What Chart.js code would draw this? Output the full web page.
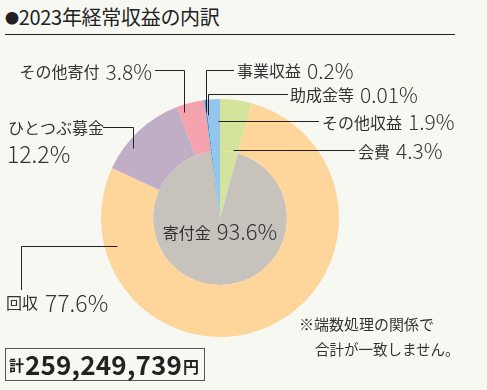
<!DOCTYPE html>
<html><head><meta charset="utf-8">
<script src="https://cdn.jsdelivr.net/npm/chart.js@4.4.1/dist/chart.umd.min.js"></script>
<style>
html,body{margin:0;padding:0;background:#f8f8f3;}
#wrap{position:relative;width:487px;height:390px;overflow:hidden;font-family:"Noto Sans CJK JP","Noto Sans",sans-serif;color:#333;}
#title{position:absolute;left:5px;top:4px;font-size:20px;line-height:26px;color:#222;letter-spacing:-0.3px;}
#title .b{font-size:14px;vertical-align:2px;}
#rule{position:absolute;left:5px;top:34px;width:450px;height:0;border-top:1px solid #222;}
canvas{position:absolute;left:0;top:0;}
#note{position:absolute;left:299px;top:311px;font-size:15px;line-height:25px;color:#333;white-space:nowrap;}
#note .l2{font-size:14.5px;padding-left:16px;}
#total{position:absolute;left:5px;top:348px;width:198px;height:31px;border:1px solid #555;box-sizing:content-box;color:#222;white-space:nowrap;}
#total span{position:absolute;top:0;}
</style></head>
<body><div id="wrap">
<div id="title"><span class="b">●</span>2023年経常収益の内訳</div>
<div id="rule"></div>
<canvas id="c" width="487" height="390"></canvas>
<div id="note">※端数処理の関係で<br><span class="l2">合計が一致しません。</span></div>
<div id="total"><span style="left:3px;top:5px;font-size:15px;line-height:22px;font-weight:700;">計</span><span id="amt" style="left:19px;top:-2px;font-size:26px;line-height:34px;font-weight:700;letter-spacing:0.2px;"></span><span style="left:177px;top:6px;font-size:16px;line-height:22px;font-weight:700;">円</span></div>
</div>
<script>
// ---- data ----
const categories = ['会費','回収','ひとつぶ募金','その他寄付','事業収益','助成金等','その他収益'];
const outerValues = [4.3, 77.6, 12.2, 3.8, 0.2, 0.01, 1.9];
const innerCategories = ['会費','寄付金','事業収益','助成金等','その他収益'];
const innerValues = [4.3, 93.6, 0.2, 0.01, 1.9];
const totalAmount = '259,249,739';

// ---- styles ----
const outerColors = ['#d4e49c','#fed59b','#c0aec7','#f4a2ae','#2f95d3','#2f95d3','#93c5ed'];
const innerColors = ['#d4e49c','#c7c2bc','#2f95d3','#2f95d3','#93c5ed'];

document.getElementById('amt').textContent = totalAmount;

// label layout (text positions & where along the slice the leader points)
const labelLayout = {
  '会費':       {t:0.70, r:0.58, mode:'straight', tx:358},
  'その他収益': {t:0.82, r:0.815, mode:'straight', tx:322},
  '助成金等':   {t:0.5, r:0.87, mode:'up', lx:288, ly:94, tx:290, ty:95, align:'left'},
  '事業収益':   {t:0.3, r:0.90, mode:'up', lx:234, ly:70, tx:237, ty:71, align:'left'},
  'その他寄付': {t:0.18, r:0.94, mode:'up', lx:155, ly:70, tx:152, ty:72, align:'right'},
  'ひとつぶ募金': {t:0.32, r:0.94, mode:'up', lx:103, ly:127, tx:8, ty:128, align:'left', valueBelow:{x:7,y:154}},
  '回収':       {t:0.857, r:0.90, mode:'down', lx:21, ly:290, tx:6, ty:303, align:'left'}
};

const nameFont = '16px "Noto Sans CJK JP", sans-serif';
const valFont = '300 21px "Noto Sans CJK JP", sans-serif';
const bigValFont = '300 23px "Noto Sans CJK JP", sans-serif';

function drawLabel(ctx, name, val, x, y, align){
  ctx.textBaseline = 'middle';
  ctx.fillStyle = '#333';
  ctx.font = nameFont; const wn = ctx.measureText(name).width;
  ctx.font = valFont; const wv = ctx.measureText(val).width;
  const gap = 6;
  let sx = align === 'right' ? x - (wn + gap + wv) : x;
  ctx.textAlign = 'left';
  ctx.font = nameFont; ctx.fillText(name, sx, y);
  ctx.font = valFont; ctx.fillText(val, sx + wn + gap, y);
}

const leaderPlugin = {
  id:'leaders',
  afterDatasetsDraw(chart){
    const ctx = chart.ctx;
    const meta = chart.getDatasetMeta(0);
    ctx.save();
    ctx.strokeStyle = '#222'; ctx.lineWidth = 1;
    categories.forEach((cat, i) => {
      const L = labelLayout[cat]; if(!L) return;
      const arc = meta.data[i];
      const a = arc.startAngle + (arc.endAngle - arc.startAngle) * L.t;
      const r = arc.outerRadius * L.r;
      const ax = Math.round(arc.x + r*Math.cos(a)) + 0.5;
      const ay = Math.round(arc.y + r*Math.sin(a)) + 0.5;
      const val = outerValues[i] + '%';
      ctx.beginPath();
      if(L.mode === 'straight'){
        ctx.moveTo(ax, ay); ctx.lineTo(L.tx - 3, ay); ctx.stroke();
        drawLabel(ctx, cat, val, L.tx, ay + 1, 'left');
      } else if(L.mode === 'up'){
        ctx.moveTo(L.lx, L.ly + 0.5); ctx.lineTo(ax, L.ly + 0.5); ctx.lineTo(ax, ay); ctx.stroke();
        if(L.valueBelow){
          ctx.font = nameFont; ctx.fillStyle = '#333'; ctx.textBaseline='middle'; ctx.textAlign='left';
          ctx.fillText(cat, L.tx, L.ty);
          ctx.font = bigValFont;
          ctx.fillText(val, L.valueBelow.x, L.valueBelow.y);
        } else {
          drawLabel(ctx, cat, val, L.tx, L.ty, L.align);
        }
      } else if(L.mode === 'down'){
        ctx.moveTo(ax, ay); ctx.lineTo(L.lx + 0.5, ay); ctx.lineTo(L.lx + 0.5, L.ly); ctx.stroke();
        ctx.font = nameFont; ctx.fillStyle = '#333'; ctx.textBaseline='middle'; ctx.textAlign='left';
        ctx.fillText(cat, L.tx, L.ty);
        const wn = ctx.measureText(cat).width;
        ctx.font = bigValFont;
        ctx.fillText(val, L.tx + wn + 7, L.ty);
      }
    });
    // centre label for inner grey slice
    const im = chart.getDatasetMeta(1);
    const gi = innerCategories.indexOf('寄付金');
    const g = im.data[gi];
    ctx.fillStyle = '#333'; ctx.textBaseline='middle';
    const nm = innerCategories[gi], vv = innerValues[gi] + '%';
    const cvFont = '300 22px "Noto Sans CJK JP", sans-serif';
    ctx.font = nameFont; const wn = ctx.measureText(nm).width;
    ctx.font = cvFont; const wv = ctx.measureText(vv).width;
    const sx = g.x - (wn + 6 + wv)/2;
    ctx.textAlign='left';
    ctx.font = nameFont; ctx.fillText(nm, sx, g.y + 15);
    ctx.font = cvFont; ctx.fillText(vv, sx + wn + 6, g.y + 14);
    ctx.restore();
  }
};

new Chart(document.getElementById('c'), {
  type:'doughnut',
  data:{
    labels: categories,
    datasets:[
      {data: outerValues, backgroundColor: outerColors, borderWidth:0, weight:52},
      {data: innerValues, backgroundColor: innerColors, borderWidth:0, weight:67}
    ]
  },
  options:{
    responsive:false, animation:false, cutout:0,
    layout:{padding:{left:101, top:99, right:148, bottom:53}},
    plugins:{legend:{display:false}, tooltip:{enabled:false}}
  },
  plugins:[leaderPlugin]
});
</script>
</body></html>
